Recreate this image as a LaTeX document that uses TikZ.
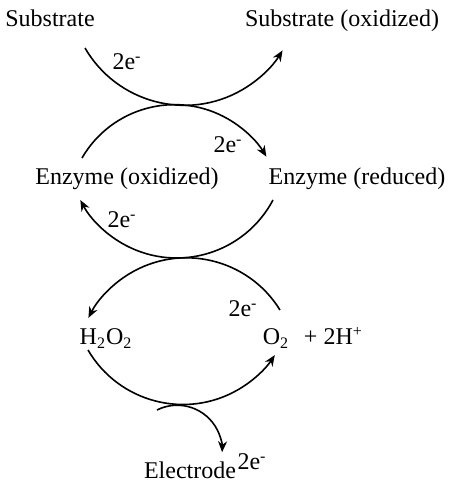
\documentclass[tikz,border=0pt]{standalone}
\usepackage{fontspec}
\setmainfont{Liberation Serif}
\usetikzlibrary{arrows.meta, positioning}

\begin{document}
\begin{tikzpicture}[
    x=0.5pt, y=0.5pt,
    species/.style={font=\fontsize{12}{14}\selectfont, inner sep=0pt, anchor=base},
    electron/.style={font=\fontsize{12}{14}\selectfont, inner sep=0pt, anchor=base},
    arrow/.style={line width=0.8pt,->,>={Stealth[length=5.5pt,width=4.5pt]}},
]
\useasboundingbox (0,0) rectangle (454,483);

    % substrate pair
    \node (sub) [species] at (50,456) {Substrate};
    \node (subox) [species] at (342,456) {Substrate (oxidized)};

    % enzyme pair
    \node (enzox) [species] at (127,298) {Enzyme (oxidized)};
    \node (enzred) [species] at (357,298) {Enzyme (reduced)};

    % peroxide / oxygen
    \node (hperox) [species] at (106,138) {H\textsubscript{2}O\textsubscript{2}};
    \node (oxy) [species] at (276,138) {O\textsubscript{2}};
    \node (proton) [species, right=7pt of oxy.base east, anchor=base west] {+ 2H\textsuperscript{+}};

    % electrode
    \node (electrode) [species] at (190,4) {Electrode};

    % electron labels
    \node (e1) [electron] at (127,413) {2e\textsuperscript{-}};
    \node (e2) [electron] at (228,330) {2e\textsuperscript{-}};
    \node (e3) [electron] at (122,255) {2e\textsuperscript{-}};
    \node (e4) [electron] at (243,166) {2e\textsuperscript{-}};
    \node (e5) [electron] at (252,13) {2e\textsuperscript{-}};

    % arc start points
    \coordinate (subout) at (85,435);
    \coordinate (enzin) at (82,325);
    \coordinate (enzout) at (273,283);
    \coordinate (oxyin) at (280,173);
    \coordinate (hperoxout) at (88,133);
    \coordinate (elecin) at (157,73);

    \draw [arrow] (subout) arc[start angle=210.1, end angle=328.5, radius=57.5pt];
    \draw [arrow] (enzin) arc[start angle=149.9, end angle=30.9, radius=53.5pt];
    \draw [arrow] (enzout) arc[start angle=-27.9, end angle=-152.1, radius=54.5pt];
    \draw [arrow] (oxyin) arc[start angle=31.7, end angle=153, radius=55pt];
    \draw [arrow] (hperoxout) arc[start angle=210.3, end angle=326.6, radius=55pt];
    \draw [arrow] (elecin) arc[start angle=116.6, end angle=-2.5, radius=22.5pt];

\end{tikzpicture}
\end{document}
